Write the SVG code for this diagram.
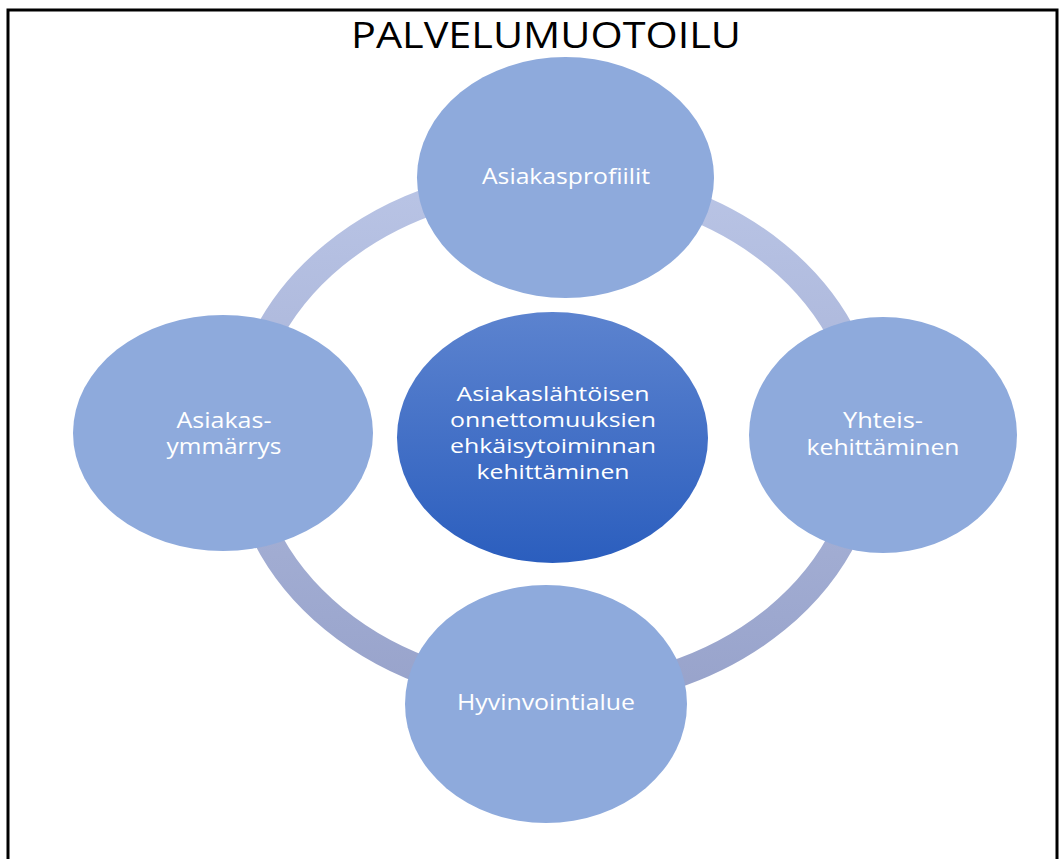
<svg xmlns="http://www.w3.org/2000/svg" width="1061" height="859" viewBox="0 0 1061 859">
  <style>
    .node { fill: #8eaadc; }
    .lbl { font-family: "Open Sans", "Noto Sans", sans-serif; font-size: 21px; fill: #ffffff; text-anchor: middle; }
    .clbl { font-family: "Open Sans", "Noto Sans", sans-serif; font-size: 20px; fill: #ffffff; text-anchor: middle; }
    .title { font-family: "Open Sans", "Noto Sans", sans-serif; font-size: 36px; fill: #000000; text-anchor: middle; }
  </style>
  <defs>
    <linearGradient id="ringGrad" x1="0" y1="0" x2="0" y2="1">
      <stop offset="0" stop-color="#b9c4e5"/>
      <stop offset="1" stop-color="#98a3cb"/>
    </linearGradient>
    <linearGradient id="centerGrad" x1="0" y1="0" x2="0" y2="1">
      <stop offset="0" stop-color="#5c83cf"/>
      <stop offset="1" stop-color="#2b5ebe"/>
    </linearGradient>
  </defs>
  <rect x="0" y="0" width="1061" height="859" fill="#ffffff"/>
  <path d="M 8 862 L 8 10 L 1057 10 L 1057 862" fill="none" stroke="#000000" stroke-width="3"/>
  <text class="title" x="546" y="48" textLength="390" lengthAdjust="spacingAndGlyphs">PALVELUMUOTOILU</text>

  <g id="connectors">
    <ellipse cx="555" cy="437" rx="313" ry="257" fill="none" stroke="url(#ringGrad)" stroke-width="28"/>
  </g>

  <g id="node-asiakasprofiilit">
    <ellipse class="node" cx="565.5" cy="177.5" rx="148.5" ry="120.5"/>
    <text class="lbl" x="566" y="184" textLength="168" lengthAdjust="spacingAndGlyphs">Asiakasprofiilit</text>
  </g>

  <g id="node-asiakasymmarrys">
    <ellipse class="node" cx="223" cy="433" rx="150" ry="118"/>
    <text class="lbl" x="224" y="428" textLength="95" lengthAdjust="spacingAndGlyphs">Asiakas-</text>
    <text class="lbl" x="224" y="454" textLength="115" lengthAdjust="spacingAndGlyphs">ymmärrys</text>
  </g>

  <g id="node-yhteiskehittaminen">
    <ellipse class="node" cx="883" cy="435" rx="134" ry="118"/>
    <text class="lbl" x="883" y="428" textLength="80" lengthAdjust="spacingAndGlyphs">Yhteis-</text>
    <text class="lbl" x="883" y="455" textLength="153" lengthAdjust="spacingAndGlyphs">kehittäminen</text>
  </g>

  <g id="node-hyvinvointialue">
    <ellipse class="node" cx="546" cy="704" rx="141" ry="119"/>
    <text class="lbl" x="546" y="710" textLength="178" lengthAdjust="spacingAndGlyphs">Hyvinvointialue</text>
  </g>

  <g id="node-center">
    <ellipse cx="552.5" cy="437.5" rx="155.5" ry="125.5" fill="url(#centerGrad)"/>
    <text class="clbl" x="553" y="401" textLength="193" lengthAdjust="spacingAndGlyphs">Asiakaslähtöisen</text>
    <text class="clbl" x="553" y="427" textLength="206" lengthAdjust="spacingAndGlyphs">onnettomuuksien</text>
    <text class="clbl" x="553" y="453" textLength="206" lengthAdjust="spacingAndGlyphs">ehkäisytoiminnan</text>
    <text class="clbl" x="553" y="479" textLength="153" lengthAdjust="spacingAndGlyphs">kehittäminen</text>
  </g>
</svg>
